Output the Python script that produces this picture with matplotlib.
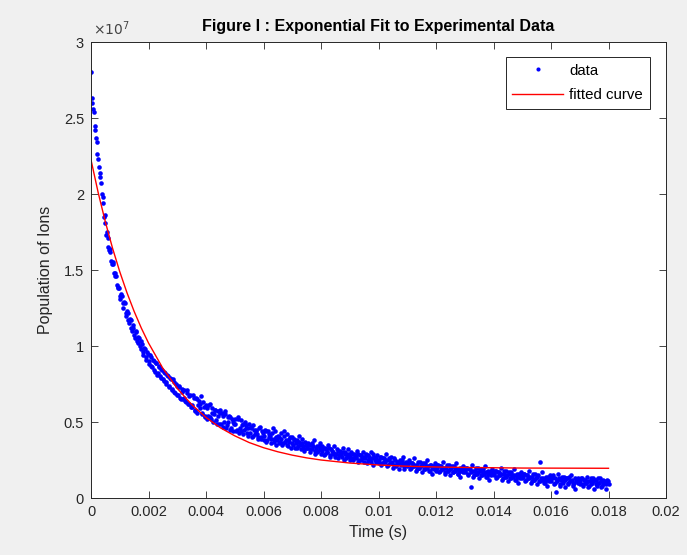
import numpy as np
import matplotlib
matplotlib.use("Agg")
import matplotlib.pyplot as plt
from matplotlib.ticker import FuncFormatter

#? Measured ion population (units of 1e6), one sample every 0.05 ms
dt = 0.00005
pop_1e6 = [
    28.0, 26.0, 25.4, 24.2, 23.4, 22.3, 21.4, 20.7, 19.8, 18.5, 18.1,
    17.5, 16.5, 16.4, 15.6, 15.5, 14.8, 14.8, 14.0, 13.9, 13.3,
    13.4, 12.8, 12.9, 12.2, 12.3, 11.7, 11.8, 11.2, 11.4, 10.7,
    10.9, 10.3, 10.6, 10.0, 10.3, 9.6, 9.9, 9.3, 9.6, 9.0,
    9.4, 8.7, 9.1, 8.4, 8.9, 8.1, 8.7, 8.0, 8.5, 7.8,
    8.3, 7.6, 8.1, 7.4, 7.9, 7.1, 7.8, 7.0, 7.5, 6.8,
    7.3, 6.6, 7.2, 6.5, 7.1, 6.3, 6.9, 6.2, 6.8, 6.1,
    6.8, 5.8, 6.6, 5.6, 6.4, 6.2, 5.5, 6.3, 5.3, 6.1,
    5.2, 6.1, 5.3, 5.9, 5.0, 5.8, 5.1, 5.7, 4.9, 5.6,
    5.6, 4.7, 5.5, 4.6, 5.3, 5.4, 4.5, 5.2, 4.4, 5.2,
    4.4, 5.2, 4.3, 5.1, 4.8, 4.2, 5.0, 4.6, 4.1, 4.9,
    4.7, 4.0, 4.8, 4.2, 4.5, 3.9, 4.6, 4.0, 4.4, 3.8,
    4.5, 3.7, 4.4, 4.0, 3.6, 4.3, 3.9, 4.4, 3.5, 4.1,
    3.6, 4.3, 3.5, 4.1, 3.7, 4.2, 3.4, 3.9, 3.3, 4.0,
    3.9, 3.3, 3.8, 3.4, 4.1, 3.2, 3.6, 3.1, 3.7, 3.3,
    3.6, 3.0, 3.5, 3.2, 3.8, 2.9, 3.4, 3.1, 3.6, 2.9,
    3.4, 2.8, 3.3, 3.0, 3.5, 2.7, 3.2, 2.9, 3.4, 2.7,
    3.2, 2.6, 3.1, 2.8, 3.3, 2.5, 3.0, 2.7, 3.2, 2.5,
    3.0, 2.5, 2.9, 2.6, 3.1, 2.4, 2.8, 2.5, 3.0, 2.4,
    2.9, 2.3, 2.8, 2.5, 3.0, 2.2, 2.7, 2.4, 2.8, 2.3,
    2.7, 2.2, 2.6, 2.4, 2.9, 2.1, 2.5, 2.3, 2.7, 2.0,
    2.6, 2.2, 2.4, 1.9, 2.5, 2.3, 2.7, 1.9, 2.4, 2.1,
    2.5, 1.9, 2.3, 2.1, 2.6, 1.8, 2.2, 2.0, 2.4, 1.7,
    2.3, 1.9, 2.1, 2.5, 1.8, 2.2, 1.6, 2.1, 2.3, 1.8,
    2.2, 1.7, 2.1, 1.9, 2.4, 1.6, 2.0, 1.8, 2.2, 1.5,
    2.1, 1.7, 1.9, 2.3, 1.6, 1.8, 1.4, 2.0, 2.1, 1.7,
    2.0, 1.5, 1.9, 1.7, 2.2, 1.4, 1.8, 1.6, 2.0, 1.3,
    1.9, 1.5, 1.7, 2.1, 1.4, 1.6, 1.2, 1.8, 1.9, 1.5,
    1.8, 1.3, 1.7, 1.5, 2.0, 1.2, 1.6, 1.4, 1.8, 1.1,
    1.7, 1.3, 1.5, 1.9, 1.2, 1.4, 1.0, 1.6, 1.7, 1.3,
    1.6, 1.1, 1.5, 1.3, 1.8, 1.0, 1.4, 1.2, 1.6, 0.9,
    1.5, 1.1, 1.3, 1.7, 1.0, 1.2, 0.8, 1.4, 1.5, 1.1,
    1.4, 0.9, 1.3, 1.1, 1.6, 0.8, 1.2, 1.0, 1.4, 0.7,
    1.3, 0.9, 1.1, 1.5, 0.8, 1.0, 0.6, 1.2, 1.3, 0.9,
    1.3, 0.8, 1.2, 1.0, 1.4, 0.7, 1.1, 0.9, 1.3, 0.6,
    1.2, 0.8, 1.0, 1.3, 0.7, 0.9, 1.1, 0.6, 1.2, 0.9,
]

#? Samples taken half way between the ones above (units of 1e6)
pop_mid_1e6 = [
    26.3, 25.6, 24.5, 23.7, 22.6, 21.8, 21.1, 20.0, 19.4, 18.6,
    17.3, 17.1, 16.3, 16.2, 15.4, 15.4, 14.6, 14.6, 13.8, 13.8,
    13.1, 13.3, 12.5, 12.8, 12.0, 12.2, 11.5, 11.7, 11.0, 11.2,
    10.5, 11.0, 10.2, 10.5, 9.8, 10.1, 9.4, 9.8, 9.1, 9.5,
    8.8, 9.3, 8.6, 9.0, 8.3, 8.9, 8.2, 8.6, 7.9, 8.4,
    7.7, 8.2, 7.5, 8.0, 7.3, 7.8, 7.2, 7.6, 6.9, 7.4,
    6.8, 7.4, 6.5, 7.0, 6.6, 6.4, 7.1, 6.2, 6.7, 6.0,
    6.0, 6.6, 5.7, 6.5, 6.1, 5.9, 6.7, 5.6, 6.0, 5.4,
    5.9, 5.4, 6.2, 5.2, 5.6, 5.5, 5.8, 4.9, 5.4, 5.8,
    4.9, 5.4, 5.0, 5.7, 4.8, 5.0, 5.3, 4.6, 5.0, 4.9,
    4.9, 4.5, 5.3, 4.6, 4.4, 4.9, 4.5, 4.8, 4.3, 4.6,
    4.3, 4.6, 4.1, 4.5, 4.4, 4.2, 4.0, 4.7, 3.9, 4.3,
    4.1, 4.4, 3.8, 4.2, 4.1, 3.9, 4.6, 3.7, 4.0, 3.8,
    4.0, 3.7, 3.9, 3.6, 4.4, 3.8, 3.5, 3.7, 4.0, 3.6,
    3.5, 3.8, 3.6, 3.3, 3.7, 3.5, 3.9, 3.4, 3.2, 3.5,
    3.3, 3.5, 3.2, 3.6, 3.4, 3.1, 3.3, 3.0, 3.4, 3.2,
    3.1, 3.3, 2.9, 3.2, 3.0, 3.3, 2.8, 3.1, 3.0, 2.9,
    2.9, 3.1, 2.8, 3.0, 2.7, 3.0, 2.9, 2.6, 2.9, 2.8,
    2.7, 2.9, 2.6, 2.8, 2.7, 2.9, 2.5, 2.8, 2.6, 2.7,
    2.6, 2.8, 2.5, 2.7, 2.4, 2.6, 2.9, 2.5, 2.6, 2.4,
    2.5, 2.7, 2.3, 2.6, 2.4, 2.5, 2.2, 2.6, 2.3, 2.4, 2.2, 2.5, 2.1, 2.4, 2.3, 2.2, 2.5, 2.1, 2.3, 2.2,
    2.2, 2.4, 2.0, 2.3, 2.1, 2.2, 1.9, 2.4, 2.0, 2.1, 2.2, 1.9, 2.3, 2.0, 2.1, 1.8, 2.2, 2.0, 1.9, 2.1,
    2.0, 2.2, 1.8, 2.1, 1.9, 2.0, 1.7, 2.2, 1.8, 1.9, 2.0, 1.7, 2.1, 1.8, 1.9, 1.6, 2.0, 1.8, 1.7, 1.9,
    1.8, 2.0, 1.6, 1.9, 0.7, 1.8, 1.5, 2.0, 1.6, 1.7, 1.8, 1.5, 1.9, 1.6, 1.7, 1.4, 1.8, 1.6, 1.5, 1.7,
    1.6, 1.8, 1.4, 1.7, 1.5, 1.6, 1.3, 1.8, 1.4, 1.5, 1.6, 1.3, 1.7, 1.4, 1.5, 1.2, 1.6, 1.4, 1.3, 1.5,
    1.4, 1.6, 1.2, 1.5, 1.3, 1.4, 1.1, 1.6, 1.2, 1.3, 1.4, 1.1, 2.4, 1.2, 1.3, 1.0, 1.4, 1.2, 1.1, 1.3,
    1.3, 1.5, 1.0, 0.4, 1.2, 1.3, 0.9, 1.4, 1.1, 1.2, 1.3, 1.0, 1.4, 1.1, 1.2, 0.9, 1.3, 1.1, 1.0, 1.2,
    1.1, 1.3, 0.9, 1.2, 1.0, 1.1, 0.8, 1.3, 1.0, 1.1, 1.2, 0.9, 1.3, 1.0, 1.1, 0.8, 1.2, 1.0, 0.9, 1.1,
]

#? Fitted curve (time in ms, value in 1e6)
fit_t_ms = [0, 0.25, 0.5, 0.75, 1.0, 1.25, 1.5, 1.75, 2.0, 2.5, 3.0, 3.5, 4.0,
            4.5, 5.0, 5.5, 6.0, 6.5, 7.0, 7.5, 8.0, 9.0, 10, 11, 12, 13, 14,
            15, 16, 17, 18]
fit_1e6 = [22.25, 20.09, 18.16, 16.43, 14.89, 13.51, 12.28, 11.18, 10.20, 8.53,
           7.21, 6.15, 5.30, 4.62, 4.09, 3.65, 3.31, 3.04, 2.82, 2.64, 2.50,
           2.30, 2.17, 2.09, 2.04, 2.01, 1.99, 1.97, 1.965, 1.96, 1.955]

x_ticks = [0, 0.002, 0.004, 0.006, 0.008, 0.01, 0.012, 0.014, 0.016, 0.018, 0.02]
y_ticks = [0, 0.5, 1, 1.5, 2, 2.5, 3]

#* Merge both sample sets onto one time axis
t_a = np.arange(len(pop_1e6)) * dt
t_b = (np.arange(len(pop_mid_1e6)) + 0.5) * dt
t = np.concatenate([t_a, t_b])
pop = np.concatenate([pop_1e6, pop_mid_1e6]) * 1e6
fit_t = np.array(fit_t_ms) / 1000
fit = np.array(fit_1e6) * 1e6

plt.rcParams['font.family'] = ['Liberation Sans', 'DejaVu Sans']
axis_col = "#262626"

fig = plt.figure(figsize=(6.87, 5.55), dpi=100, facecolor="#f0f0f0")
ax = fig.add_axes([91/687, 1-498/555, (666-91)/687, (498-42)/555])
ax.set_facecolor("white")

ax.plot(t, pop, linestyle="none", marker="o", markersize=3.3, color="blue",
        markeredgewidth=0, label="data")
ax.plot(fit_t, fit, color="red", linewidth=1.0, label="fitted curve")

ax.set_xlim(0, 0.02)
ax.set_ylim(0, 3e7)
ax.set_xticks(x_ticks)
ax.set_yticks([v * 1e7 for v in y_ticks])
ax.xaxis.set_major_formatter(FuncFormatter(lambda v, p: "%g" % round(v, 6)))
ax.yaxis.set_major_formatter(FuncFormatter(lambda v, p: "%g" % round(v / 1e7, 3)))
ax.tick_params(direction="in", length=5, width=0.6, top=True, right=True,
               colors=axis_col, labelsize=10.5, pad=5)
for s in ax.spines.values():
    s.set_color(axis_col)
    s.set_linewidth(0.7)

ax.text(0.003, 1.008, r"$\times10^{7}$", transform=ax.transAxes, fontsize=10,
        color="#444444", ha="left", va="bottom")

ax.set_title("Figure I : Exponential Fit to Experimental Data", fontsize=11.5,
             fontweight="bold", color="black", pad=8)
ax.set_xlabel("Time (s)", fontsize=11.5, color=axis_col, labelpad=4)
ax.set_ylabel("Population of Ions", fontsize=11.5, color=axis_col, labelpad=8)

leg = ax.legend(loc="upper right", fancybox=False, framealpha=1, edgecolor=axis_col,
                fontsize=10.8, handlelength=3.4, borderpad=0.45, labelspacing=0.7,
                handletextpad=0.4, bbox_to_anchor=(0.985, 0.984), markerscale=0.9)
leg.get_frame().set_linewidth(0.7)

fig.savefig("out.png", dpi=100, facecolor=fig.get_facecolor())
